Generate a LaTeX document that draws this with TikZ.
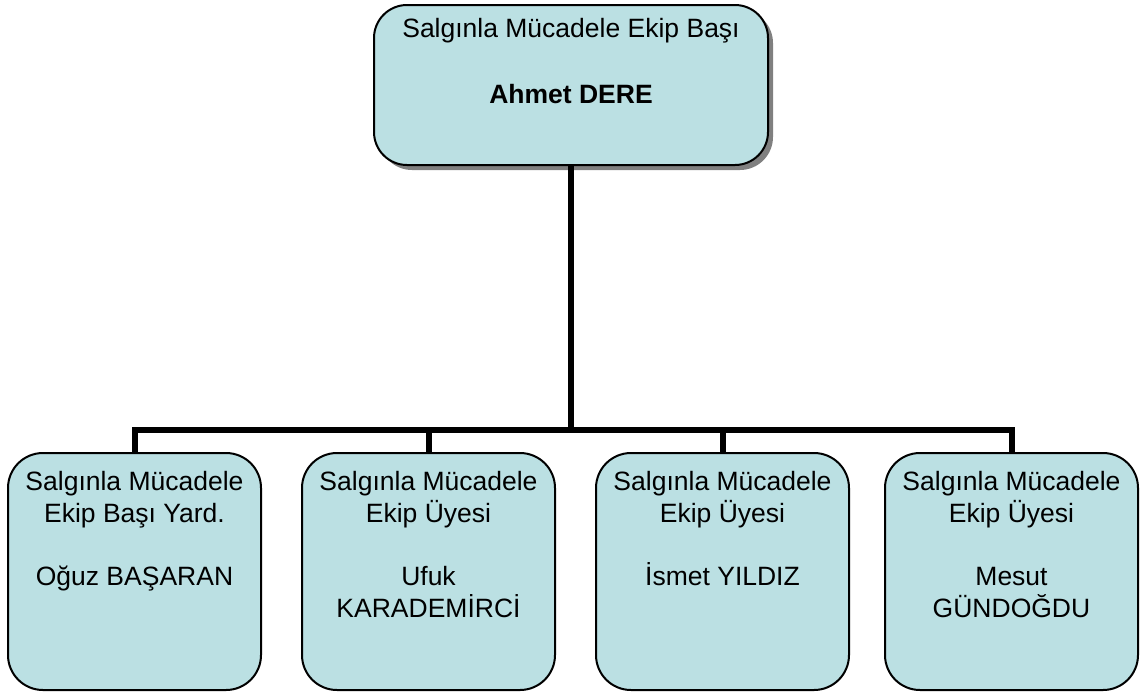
\documentclass[tikz,border=0pt]{standalone}
\usepackage{fontspec}
\setmainfont{Liberation Sans}
\usepackage{tikz}
\usetikzlibrary{calc,shadows,positioning}
\definecolor{boxfill}{HTML}{BBE0E3}
\definecolor{shadowgray}{HTML}{808080}

\begin{document}
\begin{tikzpicture}[x=1pt,y=-1pt,
		unit/.style={draw=black,line width=2pt,fill=boxfill,rounded corners=33pt,
			minimum width=253pt,minimum height=237pt,inner sep=0pt},
		chief/.style={unit,minimum width=394pt,minimum height=160pt,
			drop shadow={shadow xshift=5pt,shadow yshift=-5pt,fill=shadowgray,opacity=1}},
		txt/.style={align=center,inner sep=0pt,anchor=north,
			font=\fontsize{26.5}{31.7}\selectfont},
		link/.style={line width=6pt,line join=miter}]
		\useasboundingbox (0,0) rectangle (1140,691);
		
		% ust kutu
		\node[chief] (chief) at (571,85) {};
		\node[txt] (chieftxt) at (571,18.5) {Salgınla Mücadele Ekip Başı\\[34pt]\textbf{Ahmet DERE}};
		
		% alt kutular
		\foreach \n/\x/\t in {m1/134.5/{Salgınla Mücadele\\Ekip Başı Yard.\\[31.7pt]Oğuz BAŞARAN},
			m2/428.5/{Salgınla Mücadele\\Ekip Üyesi\\[31.7pt]Ufuk\\KARADEMİRCİ},
			m3/722.5/{Salgınla Mücadele\\Ekip Üyesi\\[31.7pt]İsmet YILDIZ},
			m4/1011.5/{Salgınla Mücadele\\Ekip Üyesi\\[31.7pt]Mesut\\GÜNDOĞDU}}
		{
			\node[unit,rounded corners=35pt] (\n) at (\x,571.5) {};
			\node[txt] (\n txt) at (\x,471) {\t};
		}
		
		% baglantilar
		\coordinate (hub) at (573,430);
		\draw[link] (chief.south) -- (chief.south |- hub);
		\draw[link] (m1.north) -- (m1.north |- hub) -- (m4.north |- hub) -- (m4.north);
		\foreach \n in {m2,m3}
		\draw[link] (\n.north) -- (\n.north |- hub);
	\end{tikzpicture}
\end{document}
